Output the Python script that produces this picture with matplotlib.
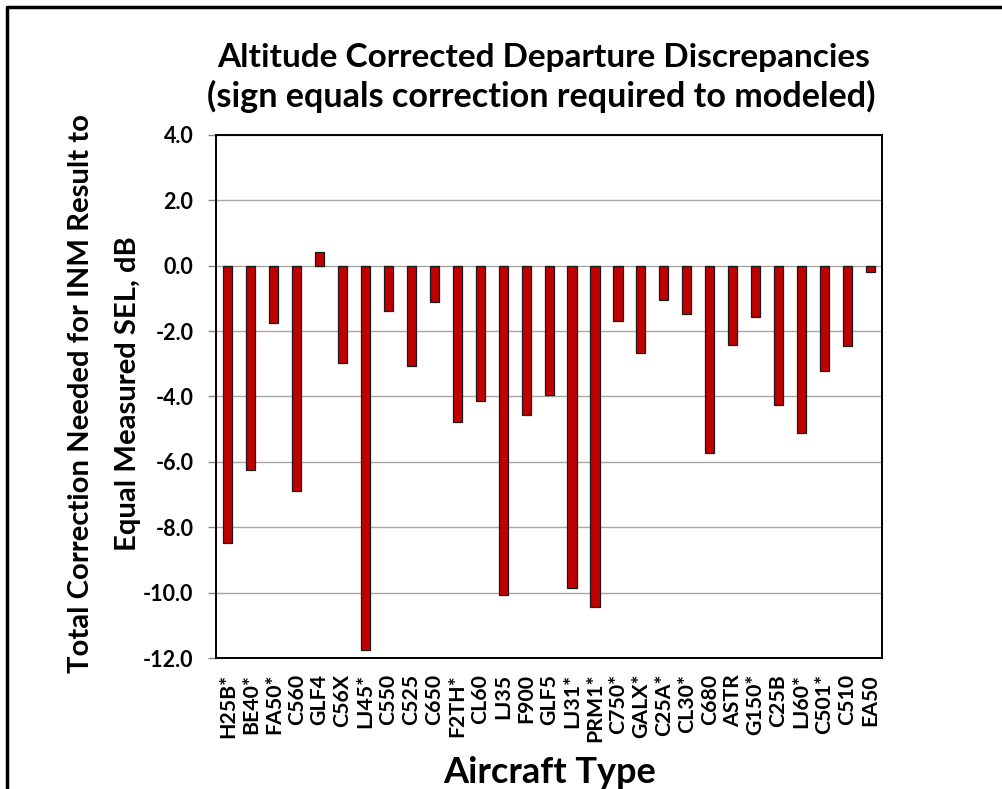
import matplotlib
matplotlib.use("Agg")
import matplotlib.pyplot as plt
from matplotlib.lines import Line2D
import numpy as np

aircraft = ['H25B*', 'BE40*', 'FA50*', 'C560', 'GLF4', 'C56X', 'LJ45*', 'C550',
            'C525', 'C650', 'F2TH*', 'CL60', 'LJ35', 'F900', 'GLF5', 'LJ31*',
            'PRM1*', 'C750*', 'GALX*', 'C25A*', 'CL30*', 'C680', 'ASTR', 'G150*',
            'C25B', 'LJ60*', 'C501*', 'C510', 'EA50']
correction = [-8.47, -6.24, -1.75, -6.90, 0.43, -2.97, -11.76, -1.39,
              -3.08, -1.10, -4.79, -4.13, -10.08, -4.57, -3.94, -9.86,
              -10.45, -1.69, -2.66, -1.04, -1.48, -5.73, -2.43, -1.56,
              -4.27, -5.13, -3.21, -2.46, -0.18]
yticks = [4, 2, 0, -2, -4, -6, -8, -10, -12]

plt.rcParams['font.family'] = ['Lato', 'DejaVu Sans']
plt.rcParams['font.weight'] = 'bold'
plt.rcParams['axes.unicode_minus'] = False

fig = plt.figure(figsize=(10.02, 7.89), dpi=100)
ax = fig.add_axes([0.216, 0.166, 0.664, 0.663])

x = np.arange(len(aircraft))
ax.bar(x, correction, width=0.4, color='#C00000', edgecolor='#1a1a1a',
       linewidth=0.9, zorder=3)

ax.set_ylim(-12, 4)
ax.set_xlim(-0.5, len(aircraft) - 0.5)
ax.set_yticks(yticks)
ax.set_yticklabels(['%.1f' % v for v in yticks], fontsize=15.5, fontweight='bold')
ax.set_xticks(x)
ax.set_xticklabels(aircraft, rotation=90, fontsize=15.3, fontweight='bold')
ax.tick_params(axis='x', length=0, pad=11.5)
ax.tick_params(axis='y', length=5.8, width=1, color='#888888', pad=10.8)
ax.yaxis.grid(True, color='#a6a6a6', linewidth=1.0, zorder=0)
for s in ax.spines.values():
    s.set_linewidth(1.4)
    s.set_color('black')

ax.set_xlabel('Aircraft Type', fontsize=26, fontweight='bold', labelpad=9.5)
ax.set_ylabel('Total Correction Needed for INM Result to\nEqual Measured SEL, dB',
              fontsize=21.1, fontweight='bold', linespacing=2.0)
ax.yaxis.set_label_coords(-0.114, 0.506)
fig.text(0.543, 1 - 57 / 789, 'Altitude Corrected Departure Discrepancies',
         ha='center', va='center', fontsize=24, fontweight='bold')
fig.text(0.540, 1 - 96 / 789, '(sign equals correction required to modeled)',
         ha='center', va='center', fontsize=24.6, fontweight='bold')

# outer frame (top and left edges only)
fig.add_artist(Line2D([0.007, 0.007, 1.0], [0.0, 0.991, 0.991],
                      transform=fig.transFigure, color='black', linewidth=2.5))

fig.savefig('out.png', dpi=100)
